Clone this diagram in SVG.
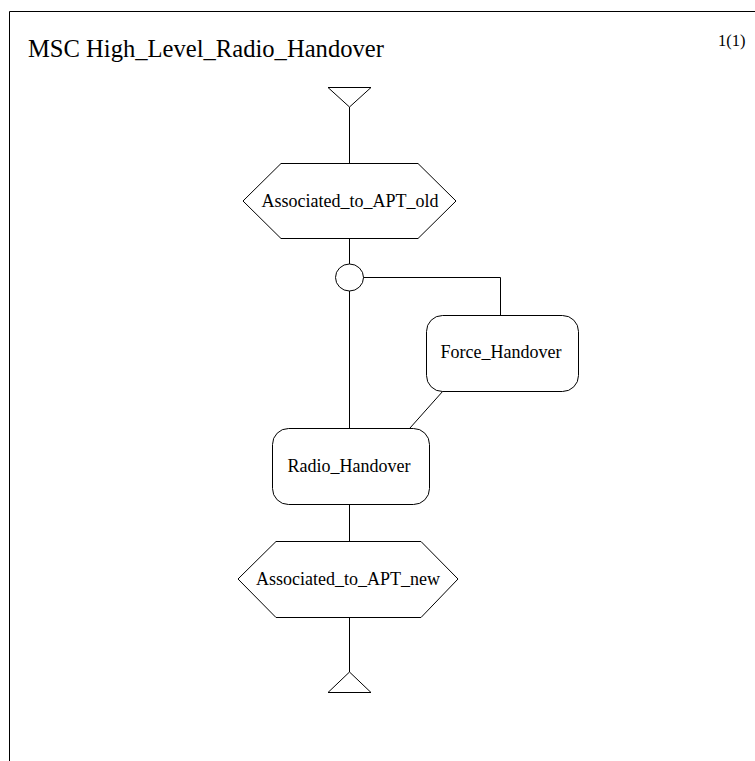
<svg xmlns="http://www.w3.org/2000/svg" width="755" height="761" viewBox="0 0 755 761">
<style>
.s{fill:#fff;stroke:#000;stroke-width:1}
.l{fill:none;stroke:#000;stroke-width:1}
.t{font-family:"Liberation Serif","Times New Roman",serif;font-size:18px;fill:#000;text-anchor:middle}
</style>
<rect x="0" y="0" width="755" height="761" fill="#fff"/>
<g id="frame">
<path d="M9.5,761 V11.5 H755" class="l" stroke-width="1.3"/>
<text x="28" y="57" font-family="Liberation Serif,serif" font-size="24.6">MSC High_Level_Radio_Handover</text>
<text x="718" y="46" font-family="Liberation Serif,serif" font-size="16.5">1(1)</text>
</g>
<g id="connectors">
<line x1="349.5" y1="107" x2="349.5" y2="163" class="l"/>
<line x1="349.5" y1="238" x2="349.5" y2="264" class="l"/>
<line x1="349.5" y1="290" x2="349.5" y2="428" class="l"/>
<polyline points="363,277.5 500.5,277.5 500.5,315" class="l"/>
<line x1="443" y1="391" x2="410" y2="428" class="l"/>
<line x1="349.5" y1="504" x2="349.5" y2="541" class="l"/>
<line x1="349.5" y1="617" x2="349.5" y2="672" class="l"/>
</g>
<g id="start">
<polygon points="328,87.5 371,87.5 349.5,107" class="s"/>
</g>
<g id="state_old">
<polygon points="243,201 281,163.5 418,163.5 456,201 418,238.5 281,238.5" class="s"/>
<text x="350" y="206.5" class="t">Associated_to_APT_old</text>
</g>
<g id="join">
<ellipse cx="349.5" cy="277.5" rx="14" ry="13.5" class="s"/>
</g>
<g id="force_handover">
<rect x="426.5" y="315.5" width="152" height="76" rx="16" class="s"/>
<text x="501" y="358" class="t">Force_Handover</text>
</g>
<g id="radio_handover">
<rect x="272.5" y="428.5" width="157" height="76" rx="16" class="s"/>
<text x="349" y="472" class="t">Radio_Handover</text>
</g>
<g id="state_new">
<polygon points="238,579 276,541.5 421,541.5 458,579 421,617.5 276,617.5" class="s"/>
<text x="348" y="584.5" class="t">Associated_to_APT_new</text>
</g>
<g id="end">
<polygon points="349.5,672 371,692.5 328,692.5" class="s"/>
</g>
</svg>
